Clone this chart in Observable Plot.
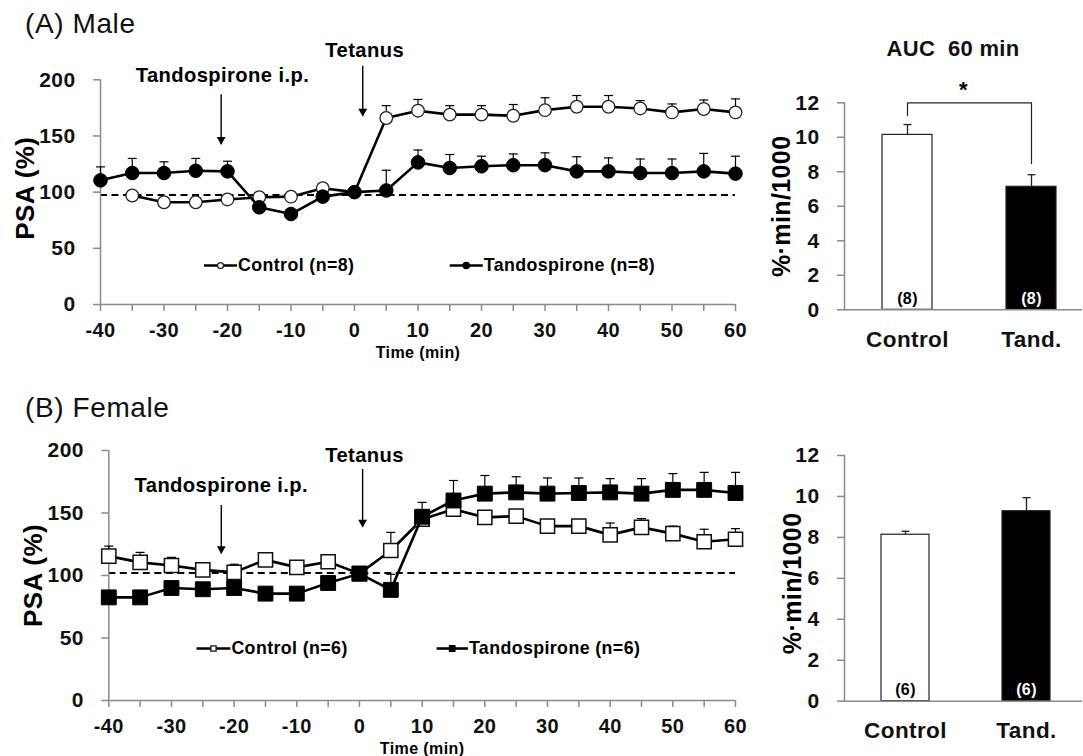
<!DOCTYPE html>
<html>
<head>
<meta charset="utf-8">
<script src="https://cdn.jsdelivr.net/npm/d3@7"></script>
<script src="https://cdn.jsdelivr.net/npm/@observablehq/plot@0.6"></script>
<style>
  body { margin: 0; background: #fff; width: 1083px; height: 756px; overflow: hidden; position: relative;
         font-family: "Liberation Sans", Arial, Helvetica, sans-serif; color: #111; }
  .panel { position: absolute; }
  .panel svg { background: transparent !important; overflow: visible; }
  .title { position: absolute; font-size: 28px; line-height: 28px; letter-spacing: 0.6px; white-space: nowrap; }
  .subtitle { position: absolute; font-size: 22px; line-height: 22px; font-weight: bold; letter-spacing: 0.3px;
              white-space: nowrap; transform: translateX(-50%); }
</style>
</head>
<body>
<div class="title" style="left:25px; top:10px;">(A) Male</div>
<div class="title" style="left:25px; top:394px;">(B) Female</div>
<div class="subtitle" style="left:953px; top:38px;">AUC&nbsp; 60 min</div>
<div id="lineA" class="panel" style="left:0; top:0;"></div>
<div id="barA" class="panel" style="left:760px; top:0;"></div>
<div id="lineB" class="panel" style="left:0; top:380px;"></div>
<div id="barB" class="panel" style="left:760px; top:380px;"></div>
<script>
// ---- time course (min) and population spike amplitude (% of baseline), mean and SEM ----
const times = [-40, -35, -30, -25, -20, -15, -10, -5, 0, 5, 10, 15, 20, 25, 30, 35, 40, 45, 50, 55, 60];
const xTickLabels = [-40, -30, -20, -10, 0, 10, 20, 30, 40, 50, 60];
const psaTicks = [0, 50, 100, 150, 200];

const maleControl    = [null, 97, 91, 91, 93.5, 95.5, 96, 103.5, 100, 166, 172.5, 169, 169, 168, 173, 176, 176, 174.5, 171, 174, 171];
const maleControlSem = [null, 2, 2, 2, 2, 2, 2, 2, 2, 11, 10, 8, 8, 10, 11, 10, 10, 7, 7.5, 8, 12];
const maleTando      = [110.5, 117, 117, 119, 118.5, 86.5, 80.5, 96, 100, 101.5, 126.5, 121.5, 123, 124, 124, 118.5, 118.5, 117, 117, 118.5, 116.5];
const maleTandoSem   = [12, 13, 10, 11, 9, 3, 3, 3, 2, 18, 11, 12, 9, 10, 11, 13, 12, 12.5, 12.5, 16, 15.5];

const femaleControl    = [115.5, 110.5, 108, 104.5, 102.5, 112.5, 106.5, 111, 101.5, 120, 145, 153, 146.5, 147.5, 139.5, 139.5, 132.5, 138.5, 133.5, 127, 129];
const femaleControlSem = [8, 8, 6.5, 3, 6.5, 3, 3, 3, 2, 14.5, 5, 5, 3, 3, 3, 3, 9.5, 7, 6, 10, 8.5];
const femaleTando      = [82.5, 82.5, 90, 89, 90, 85.5, 85.5, 94, 101.5, 88.5, 147, 160, 165.5, 166.5, 165.5, 166, 166.5, 165.5, 168.5, 168.5, 166];
const femaleTandoSem   = [3, 3, 3, 3, 3, 3, 3, 3, 2, 12.5, 11.5, 16, 14.5, 12.5, 12.5, 12, 11, 12, 13, 14, 16.5];

// ---- area under the curve, 60 min after tetanus (%·min/1000) ----
const aucGroups = ["Control", "Tand."];
const aucTicks = [0, 2, 4, 6, 8, 10, 12];
const maleAuc = [10.14, 7.13];
const maleAucSem = [0.6, 0.7];
const maleN = [8, 8];
const femaleAuc = [8.13, 9.28];
const femaleAucSem = [0.17, 0.66];
const femaleN = [6, 6];

const FONT = '"Liberation Sans", Arial, Helvetica, sans-serif';
const svgStyle = {fontFamily: FONT, background: "transparent", overflow: "visible", letterSpacing: "0.4px"};

// horizontal cap used on top of the error bars
const capSymbol = {
  draw(context, size) {
    const w = Math.sqrt(size / Math.PI);
    context.moveTo(-w, 0);
    context.lineTo(w, 0);
  }
};

function toSeries(values, sems) {
  return times.map((t, i) => ({t, v: values[i], e: sems[i]})).filter(d => d.v != null);
}

function seriesMarks(data, {symbol, r, fill, stroke, strokeWidth}) {
  return [
    Plot.ruleX(data, {x: "t", y1: "v", y2: d => d.v + d.e, stroke: "black", strokeWidth: 1.2}),
    Plot.dot(data, {x: "t", y: d => d.v + d.e, symbol: capSymbol, r: 4.5, stroke: "black", strokeWidth: 1.2}),
    Plot.line(data, {x: "t", y: "v", stroke: "black", strokeWidth: 2.6}),
    Plot.dot(data, {x: "t", y: "v", symbol, r, fill, stroke, strokeWidth})
  ];
}

function legendMarks(items) {
  return [
    Plot.link(items, {x1: d => d.t - d.half, x2: d => d.t + d.half, y1: "y", y2: "y", stroke: "black", strokeWidth: 2.6}),
    Plot.dot(items, {x: "t", y: "y", symbol: d => d.symbol, r: d => d.r, fill: d => d.fill, stroke: d => d.stroke, strokeWidth: 1.3}),
    Plot.text(items, {x: d => d.t + d.half, y: "y", text: "label", textAnchor: "start", lineAnchor: "middle", dx: 1,
                      fontSize: 17.8, fontWeight: "bold", fill: "black"})
  ];
}

function timeCourse({width, height, marginLeft, marginRight, marginTop, marginBottom, control, tando,
                     baseline, labelDy, notes, arrows, legend, ctrlStyle, tandStyle}) {
  return Plot.plot({
    width, height, marginLeft, marginRight, marginTop, marginBottom,
    style: svgStyle,
    x: {domain: [-40, 60]},
    y: {domain: [0, 200]},
    marks: [
      Plot.ruleY([baseline], {stroke: "black", strokeWidth: 2, strokeDasharray: "7,4.5"}),
      Plot.ruleX([-40], {stroke: "#8a8a8a", strokeWidth: 1.5}),
      Plot.ruleY([0], {stroke: "#8a8a8a", strokeWidth: 1.5}),
      Plot.axisX({ticks: times, tickSize: 7, tickPadding: 11, stroke: "#8a8a8a", strokeWidth: 1.5,
                  tickFormat: d => xTickLabels.includes(d) ? String(d) : "",
                  fontSize: 20, fontWeight: "bold", label: null}),
      Plot.axisY({ticks: psaTicks, tickSize: 7, tickPadding: 18, stroke: "#8a8a8a", strokeWidth: 1.5,
                  tickFormat: d => String(d), fontSize: 21, fontWeight: "bold", label: null}),
      Plot.text(["Time (min)"], {text: d => d, frameAnchor: "bottom", lineAnchor: "bottom", dy: 53,
                                 fontSize: 16, fontWeight: "bold", fill: "black"}),
      Plot.text(["PSA (%)"], {text: d => d, frameAnchor: "left", textAnchor: "middle", rotate: -90, lineAnchor: "bottom",
                              dx: -67, dy: labelDy, fontSize: 26, fontWeight: "bold", fill: "black"}),
      ...seriesMarks(control, ctrlStyle),
      ...seriesMarks(tando, tandStyle),
      Plot.ruleX(arrows, {x: "t", y1: "y1", y2: "y2", stroke: "black", strokeWidth: 1.4}),
      Plot.dot(arrows, {x: "t", y: "y2", symbol: "triangle", rotate: 180, r: 3.3, dy: -5, fill: "black"}),
      Plot.text(notes, {x: "t", y: "y", text: "label", lineAnchor: "bottom", fontSize: 20.2, fontWeight: "bold", fill: "black"}),
      ...legendMarks(legend)
    ]
  });
}

function aucChart({width, height, marginTop, marginBottom, range, values, sems, ns, labelDx, labelDy, bracket, star}) {
  const data = aucGroups.map((g, i) => ({g, v: values[i], e: sems[i], n: ns[i]}));
  const marks = [
    Plot.barY(data, {x: "g", y: "v", fill: d => d.g === "Control" ? "white" : "black", stroke: "#222", strokeWidth: 1.2}),
    Plot.ruleX(data, {x: "g", y1: "v", y2: d => d.v + d.e, stroke: "#222", strokeWidth: 1.3}),
    Plot.dot(data, {x: "g", y: d => d.v + d.e, symbol: capSymbol, r: 4, stroke: "#222", strokeWidth: 1.3}),
    Plot.text(data, {x: "g", text: d => `(${d.n})`, frameAnchor: "bottom", lineAnchor: "middle", dy: -11,
                     fill: d => d.g === "Control" ? "black" : "white", fontSize: 16, fontWeight: "bold"}),
    Plot.ruleY([0], {stroke: "#8a8a8a", strokeWidth: 1.5}),
    Plot.frame({anchor: "left", stroke: "#8a8a8a", strokeWidth: 1.5}),
    Plot.axisY({ticks: aucTicks, tickSize: 7, tickPadding: 18, stroke: "#8a8a8a", strokeWidth: 1.5,
                tickFormat: d => String(d), fontSize: 21, fontWeight: "bold", label: null}),
    Plot.axisX({tickSize: 0, tickPadding: 21, fontSize: 22.5, fontWeight: "bold", label: null}),
    Plot.text(["%·min/1000"], {text: d => d, frameAnchor: "left", textAnchor: "middle", rotate: -90, lineAnchor: "bottom",
                               dx: labelDx, dy: labelDy, fontSize: 25, fontWeight: "bold", fill: "black"})
  ];
  if (bracket) {
    marks.push(Plot.line(bracket, {x: "g", y: "v", stroke: "#222", strokeWidth: 1.2}));
    marks.push(Plot.text([star], {text: d => d, frameAnchor: "top", lineAnchor: "bottom", dy: -6,
                                  fontSize: 22, fontWeight: "bold", fill: "black"}));
  }
  return Plot.plot({
    width, height, marginLeft: 84, marginRight: 1, marginTop, marginBottom,
    style: svgStyle,
    x: {domain: aucGroups, range, paddingInner: 0.6, paddingOuter: 0.3},
    y: {domain: [0, 12]},
    marks
  });
}

const circleOpen = {symbol: "circle", r: 6.3, fill: "white", stroke: "#222", strokeWidth: 1.3};
const circleFull = {symbol: "circle", r: 6.8, fill: "black", stroke: "black", strokeWidth: 1};
const squareOpen = {symbol: "square", r: 8, fill: "white", stroke: "#111", strokeWidth: 1.5};
const squareFull = {symbol: "square", r: 8.4, fill: "black", stroke: "black", strokeWidth: 1};

document.getElementById("lineA").append(timeCourse({
  width: 760, height: 380, marginLeft: 100, marginRight: 25, marginTop: 79.3, marginBottom: 76,
  control: toSeries(maleControl, maleControlSem),
  tando: toSeries(maleTando, maleTandoSem),
  baseline: 97.5, labelDy: -4,
  notes: [{t: -20.8, y: 198.4, label: "Tandospirone i.p."}, {t: 1.6, y: 220, label: "Tetanus"}],
  arrows: [{t: -21, y1: 186.8, y2: 142.3}, {t: 1.3, y1: 212, y2: 167.5}],
  legend: [
    {t: -21.1, y: 34.7, half: 2.6, label: "Control (n=8)", symbol: "circle", r: 5.2, fill: "white", stroke: "#222"},
    {t: 17.6, y: 34.7, half: 2.6, label: "Tandospirone (n=8)", symbol: "circle", r: 5.8, fill: "black", stroke: "black"}
  ],
  ctrlStyle: circleOpen, tandStyle: circleFull
}));

document.getElementById("lineB").append(timeCourse({
  width: 760, height: 376, marginLeft: 108.3, marginRight: 25, marginTop: 70, marginBottom: 56,
  control: toSeries(femaleControl, femaleControlSem),
  tando: toSeries(femaleTando, femaleTandoSem),
  baseline: 102, labelDy: 0,
  notes: [{t: -22.05, y: 166.7, label: "Tandospirone i.p."}, {t: 0.8, y: 190.7, label: "Tetanus"}],
  arrows: [{t: -22.05, y1: 156, y2: 117.4}, {t: 0.5, y1: 184.8, y2: 138.6}],
  legend: [
    {t: -23.3, y: 41.6, half: 2.7, label: "Control (n=6)", symbol: "square", r: 5.6, fill: "white", stroke: "#111"},
    {t: 14.8, y: 41.6, half: 2.5, label: "Tandospirone (n=6)", symbol: "square", r: 6, fill: "black", stroke: "black"}
  ],
  ctrlStyle: squareOpen, tandStyle: squareFull
}));

document.getElementById("barA").append(aucChart({
  width: 323, height: 380, marginTop: 102.3, marginBottom: 70.7, range: [84, 332.8],
  values: maleAuc, sems: maleAucSem, ns: maleN, labelDx: -55, labelDy: 0,
  bracket: [{g: "Control", v: 11.26}, {g: "Control", v: 12}, {g: "Tand.", v: 12}, {g: "Tand.", v: 8.48}],
  star: "*"
}));

document.getElementById("barB").append(aucChart({
  width: 323, height: 376, marginTop: 75, marginBottom: 55.3, range: [84, 327],
  values: femaleAuc, sems: femaleAucSem, ns: femaleN, labelDx: -44, labelDy: 5
}));
</script>
</body>
</html>
